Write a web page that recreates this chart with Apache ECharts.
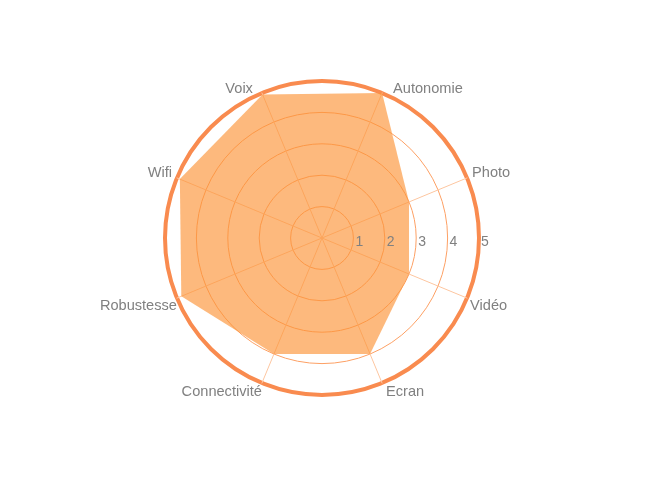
<!DOCTYPE html>
<html>
<head>
<meta charset="utf-8">
<script src="https://cdn.jsdelivr.net/npm/echarts@6/dist/echarts.min.js"></script>
<style>html,body{margin:0;padding:0;background:#fff}#c{width:645px;height:484px}</style>
</head>
<body>
<div id="c"></div>
<script>
// Indicators listed counterclockwise starting at Autonomie
var categories = ['Autonomie', 'Voix', 'Wifi', 'Robustesse', 'Connectivité', 'Ecran', 'Vidéo', 'Photo'];
var values = [5, 4.95, 4.9, 4.85, 4, 4, 3, 3];
var scaleMax = 5;
var tickStep = 1;

// label offsets (styling only): [top, right, bottom, left] padding per indicator position
var namePadding = [
  [0, 0, 8, 11], [0, 9, 8, 0], [0, 5, 10, 0], [16, 0, 0, 0],
  [18, 0, 0, 0], [18, 0, 0, 4], [16, 0, 0, 3], [0, 0, 10, 5]
];
var rich = {};
namePadding.forEach(function (p, i) {
  rich['p' + i] = {padding: p, color: '#808080', fontSize: 14.6, fontFamily: 'Liberation Sans, Arial, sans-serif'};
});

var chart = echarts.init(document.getElementById('c'), null, {renderer: 'canvas'});
var center = [322, 238];
var radius = 157;
chart.setOption({
  animation: false,
  textStyle: {fontFamily: 'Liberation Sans, Arial, sans-serif'},
  radar: {
    center: center,
    radius: radius,
    startAngle: 67.5,
    shape: 'circle',
    splitNumber: 5,
    nameGap: 0,
    axisName: {
      color: '#808080', fontSize: 14.6, fontFamily: 'Liberation Sans, Arial, sans-serif',
      formatter: function (name) { return '{p' + categories.indexOf(name) + '|' + name + '}'; },
      rich: rich
    },
    indicator: categories.map(function (n) { return {name: n, max: scaleMax, min: 0}; }),
    axisLine: {lineStyle: {color: '#FDC6A0', width: 1}},
    splitLine: {lineStyle: {color: '#FDA064', width: 1}},
    splitArea: {show: false},
    axisTick: {show: false},
    axisLabel: {show: false}
  },
  polar: {center: center, radius: radius},
  angleAxis: {
    type: 'value', min: 0, max: 360, startAngle: 0,
    axisLine: {show: true, lineStyle: {color: '#F98B4F', width: 4}},
    axisTick: {show: false}, axisLabel: {show: false}, splitLine: {show: false}
  },
  radiusAxis: {
    type: 'value', min: 0, max: scaleMax, interval: tickStep, z: 20,
    axisLine: {show: false}, axisTick: {show: false}, splitLine: {show: false},
    axisLabel: {
      show: true, color: '#808080', fontSize: 14, margin: -4,
      align: 'left', verticalAlign: 'middle', padding: [0, 0, 0, 2],
      formatter: function (v) { return v === 0 ? '' : String(v); }
    }
  },
  series: [{
    type: 'radar',
    z: 3,
    symbol: 'none',
    lineStyle: {width: 0},
    areaStyle: {color: 'rgba(252,147,55,0.65)', opacity: 1},
    data: [{value: values}]
  }]
});
</script>
</body>
</html>
